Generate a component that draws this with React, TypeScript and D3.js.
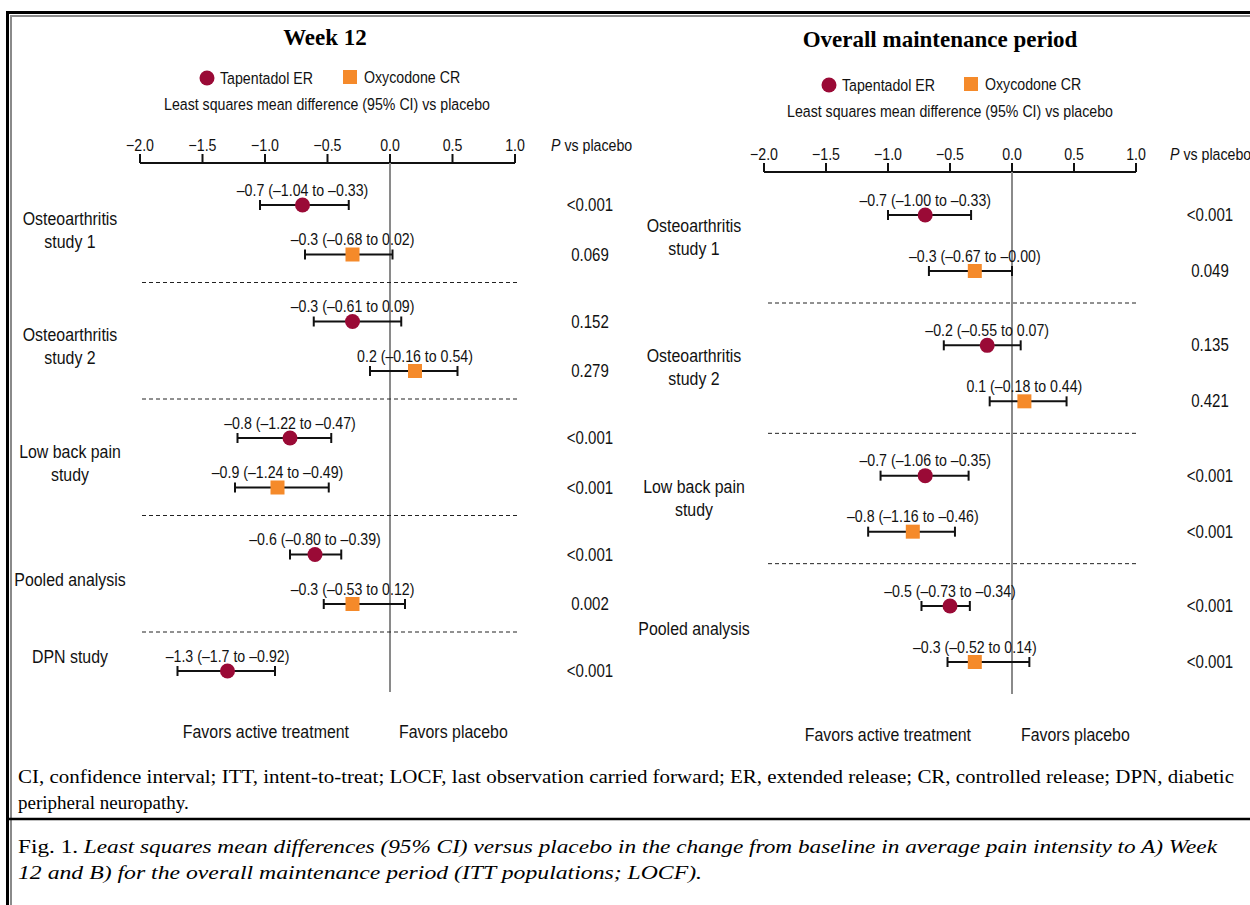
import * as d3 from 'd3';
import React from 'react';

const SANS = "'Liberation Sans', Arial, Helvetica, sans-serif";
const SERIF = "'Liberation Serif', 'DejaVu Serif', serif";
const TAP_COLOR = '#9a0a36';
const OXY_COLOR = '#f58a2a';
// the reference uses a condensed grotesque; squeeze Liberation Sans horizontally
const SX = 0.86;
const FS = 16.5;

const tickValues = [-2.0, -1.5, -1.0, -0.5, 0.0, 0.5, 1.0];
const seriesNames = ['Tapentadol ER', 'Oxycodone CR'];

// Week 12
const w12Groups = [['Osteoarthritis', 'study 1'], ['Osteoarthritis', 'study 2'], ['Low back pain', 'study'], ['Pooled analysis'], ['DPN study']];
const w12TapEst = [-0.7, -0.3, -0.8, -0.6, -1.3];
const w12TapLo = [-1.04, -0.61, -1.22, -0.8, -1.7];
const w12TapHi = [-0.33, 0.09, -0.47, -0.39, -0.92];
const w12TapText = ['–0.7 (–1.04 to –0.33)', '–0.3 (–0.61 to 0.09)', '–0.8 (–1.22 to –0.47)', '–0.6 (–0.80 to –0.39)', '–1.3 (–1.7 to –0.92)'];
const w12TapP = ['<0.001', '0.152', '<0.001', '<0.001', '<0.001'];
const w12OxyEst = [-0.3, 0.2, -0.9, -0.3];
const w12OxyLo = [-0.68, -0.16, -1.24, -0.53];
const w12OxyHi = [0.02, 0.54, -0.49, 0.12];
const w12OxyText = ['–0.3 (–0.68 to 0.02)', '0.2 (–0.16 to 0.54)', '–0.9 (–1.24 to –0.49)', '–0.3 (–0.53 to 0.12)'];
const w12OxyP = ['0.069', '0.279', '<0.001', '0.002'];

// Overall maintenance period
const omGroups = [['Osteoarthritis', 'study 1'], ['Osteoarthritis', 'study 2'], ['Low back pain', 'study'], ['Pooled analysis']];
const omTapEst = [-0.7, -0.2, -0.7, -0.5];
const omTapLo = [-1.0, -0.55, -1.06, -0.73];
const omTapHi = [-0.33, 0.07, -0.35, -0.34];
const omTapText = ['–0.7 (–1.00 to –0.33)', '–0.2 (–0.55 to 0.07)', '–0.7 (–1.06 to –0.35)', '–0.5 (–0.73 to –0.34)'];
const omTapP = ['<0.001', '0.135', '<0.001', '<0.001'];
const omOxyEst = [-0.3, 0.1, -0.8, -0.3];
const omOxyLo = [-0.67, -0.18, -1.16, -0.52];
const omOxyHi = [-0.0, 0.44, -0.46, 0.14];
const omOxyText = ['–0.3 (–0.67 to –0.00)', '0.1 (–0.18 to 0.44)', '–0.8 (–1.16 to –0.46)', '–0.3 (–0.52 to 0.14)'];
const omOxyP = ['0.049', '0.421', '<0.001', '<0.001'];

const footnote1 = 'CI, confidence interval; ITT, intent-to-treat; LOCF, last observation carried forward; ER, extended release; CR, controlled release; DPN, diabetic';
const footnote2 = 'peripheral neuropathy.';
const caption1 = 'Least squares mean differences (95% CI) versus placebo in the change from baseline in average pain intensity to A) Week';
const caption2 = '12 and B) for the overall maintenance period (ITT populations; LOCF).';

interface Series {
	est: number[];
	lo: number[];
	hi: number[];
	text: string[];
	p: string[];
	color: string;
	shape: 'circle' | 'square';
	offset: number;
}

const T = ({ x, y, anchor = 'start', size = FS, children }: any) => (
	<text
		transform={`translate(${x},${y}) scale(${SX},1)`}
		textAnchor={anchor}
		fontFamily={SANS}
		fontSize={size}
		fill="#111"
	>
		{children}
	</text>
);

const Marker = ({ shape, x, y, color }: any) =>
	shape === 'circle' ? (
		<circle cx={x} cy={y} r={7.5} fill={color} />
	) : (
		<rect x={x - 7} y={y - 7} width={14} height={14} fill={color} />
	);

const Panel = (props: any) => {
	const { L, title, groups, series } = props;
	const x = d3.scaleLinear().domain([-2, 1]).range([L.x0, L.x1]);
	const gy = d3.scaleLinear().domain([0, groups.length - 1]).range([L.firstY, L.lastY]);
	const x0 = x(0);

	return (
		<g>
			<text x={L.titleX} y={L.titleY} textAnchor="middle" fontFamily={SERIF} fontWeight="bold" fontSize={23}>
				{title}
			</text>
			{/* legend */}
			<circle cx={L.legCircleX} cy={L.legY} r={7.5} fill={TAP_COLOR} />
			<T x={L.legCircleX + 13} y={L.legY + 6}>{seriesNames[0]}</T>
			<rect x={L.legSquareX - 7} y={L.legY - 8} width={14} height={14} fill={OXY_COLOR} />
			<T x={L.legSquareX + 14} y={L.legY + 5}>{seriesNames[1]}</T>
			<T x={L.subX} y={L.subY} anchor="middle">
				Least squares mean difference (95% CI) vs placebo
			</T>

			{/* axis */}
			<line x1={L.x0} x2={L.x1} y1={L.axisY} y2={L.axisY} stroke="#111" strokeWidth={2} />
			{tickValues.map(t => (
				<g key={t}>
					<line x1={x(t)} x2={x(t)} y1={L.axisY} y2={L.axisY - 9} stroke="#111" strokeWidth={2} />
					<T x={x(t)} y={L.axisY - 12} anchor="middle">
						{d3.format('.1f')(t).replace('-', '–')}
					</T>
				</g>
			))}
			<T x={L.pHeadX} y={L.axisY - 12}>
				<tspan fontStyle="italic">P</tspan> vs placebo
			</T>

			{/* zero line */}
			<line x1={x0} x2={x0} y1={L.axisY} y2={L.zeroBottom} stroke="#8a8a8a" strokeWidth={2} />

			{/* group separators */}
			{groups.slice(0, -1).map((_: any, i: number) => (
				<line
					key={'d' + i}
					x1={L.dashX0}
					x2={L.dashX1}
					y1={gy(i) + L.dashOffset}
					y2={gy(i) + L.dashOffset}
					stroke="#222"
					strokeWidth={1}
					strokeDasharray="4,3"
				/>
			))}

			{/* group labels */}
			{groups.map((lines: string[], i: number) => {
				const rows = series.filter((s: Series) => s.est[i] !== undefined).length;
				const cy = rows > 1 ? gy(i) + L.groupLabelOffset : gy(i) - 15;
				const start = cy - ((lines.length - 1) * 23) / 2;
				return (
					<g key={'g' + i}>
						{lines.map((ln, j) => (
							<T key={j} x={L.labelX} y={start + j * 23 + 6.5} anchor="middle" size={18.5}>
								{ln}
							</T>
						))}
					</g>
				);
			})}

			{/* estimates */}
			{series.map((s: Series, si: number) =>
				s.est.map((v, i) => {
					const y = gy(i) + s.offset;
					return (
						<g key={si + '-' + i}>
							<line x1={x(s.lo[i])} x2={x(s.hi[i])} y1={y} y2={y} stroke="#111" strokeWidth={2} />
							<line x1={x(s.lo[i])} x2={x(s.lo[i])} y1={y - 5} y2={y + 5} stroke="#111" strokeWidth={2} />
							<line x1={x(s.hi[i])} x2={x(s.hi[i])} y1={y - 5} y2={y + 5} stroke="#111" strokeWidth={2} />
							<Marker shape={s.shape} x={x(v)} y={y} color={s.color} />
							<T x={x(v)} y={y - 9.5} anchor="middle">{s.text[i]}</T>
							<T x={L.pX} y={y + 6} anchor="middle" size={17.5}>{s.p[i]}</T>
						</g>
					);
				})
			)}

			<T x={x0 - 41} y={L.favorsY} anchor="end" size={18.5}>Favors active treatment</T>
			<T x={x0 + 9} y={L.favorsY} size={18.5}>Favors placebo</T>
		</g>
	);
};

const leftLayout = {
	x0: 140, x1: 515, axisY: 163, titleX: 325, titleY: 45, legY: 78, legCircleX: 207, legSquareX: 350,
	subX: 327, subY: 110, firstY: 205, lastY: 671, dashOffset: 77.5, dashX0: 142, dashX1: 517,
	labelX: 70, pX: 590, pHeadX: 551, zeroBottom: 692, favorsY: 738, groupLabelOffset: 24.5,
};
const rightLayout = {
	x0: 764, x1: 1136, axisY: 172, titleX: 940, titleY: 47, legY: 85, legCircleX: 829, legSquareX: 971,
	subX: 950, subY: 117, firstY: 215, lastY: 606, dashOffset: 88, dashX0: 768, dashX1: 1138,
	labelX: 694, pX: 1210, pHeadX: 1170, zeroBottom: 694, favorsY: 741, groupLabelOffset: 22,
};

export default function App() {
	const w12Series: Series[] = [
		{ est: w12TapEst, lo: w12TapLo, hi: w12TapHi, text: w12TapText, p: w12TapP, color: TAP_COLOR, shape: 'circle', offset: 0 },
		{ est: w12OxyEst, lo: w12OxyLo, hi: w12OxyHi, text: w12OxyText, p: w12OxyP, color: OXY_COLOR, shape: 'square', offset: 49.5 },
	];
	const omSeries: Series[] = [
		{ est: omTapEst, lo: omTapLo, hi: omTapHi, text: omTapText, p: omTapP, color: TAP_COLOR, shape: 'circle', offset: 0 },
		{ est: omOxyEst, lo: omOxyLo, hi: omOxyHi, text: omOxyText, p: omOxyP, color: OXY_COLOR, shape: 'square', offset: 56 },
	];

	return (
		<svg
			width={1250}
			height={905}
			style={{ position: 'absolute', left: 0, top: 0, background: '#fff' }}
		>
			<rect width={1250} height={905} fill="#fff" />
			{/* frame */}
			<path d="M7.5,905 V12.5 H1250" fill="none" stroke="#000" strokeWidth={3} />
			<path d="M11,905 V16 H1250" fill="none" stroke="#8a8a8a" strokeWidth={2} />

			<Panel L={leftLayout} title="Week 12" groups={w12Groups} series={w12Series} />
			<Panel L={rightLayout} title="Overall maintenance period" groups={omGroups} series={omSeries} />

			<text x={18} y={783} fontFamily={SERIF} fontSize={19} textLength={1216} lengthAdjust="spacingAndGlyphs">
				{footnote1}
			</text>
			<text x={18} y={809} fontFamily={SERIF} fontSize={19}>
				{footnote2}
			</text>
			<line x1={9} x2={1250} y1={819} y2={819} stroke="#000" strokeWidth={2.5} />
			<text x={18} y={853} fontFamily={SERIF} fontSize={19.5} textLength={1199} lengthAdjust="spacingAndGlyphs">
				Fig. 1. <tspan fontStyle="italic">{caption1}</tspan>
			</text>
			<text x={18} y={879} fontFamily={SERIF} fontSize={19.5} fontStyle="italic" textLength={684} lengthAdjust="spacingAndGlyphs">
				{caption2}
			</text>
		</svg>
	);
}
